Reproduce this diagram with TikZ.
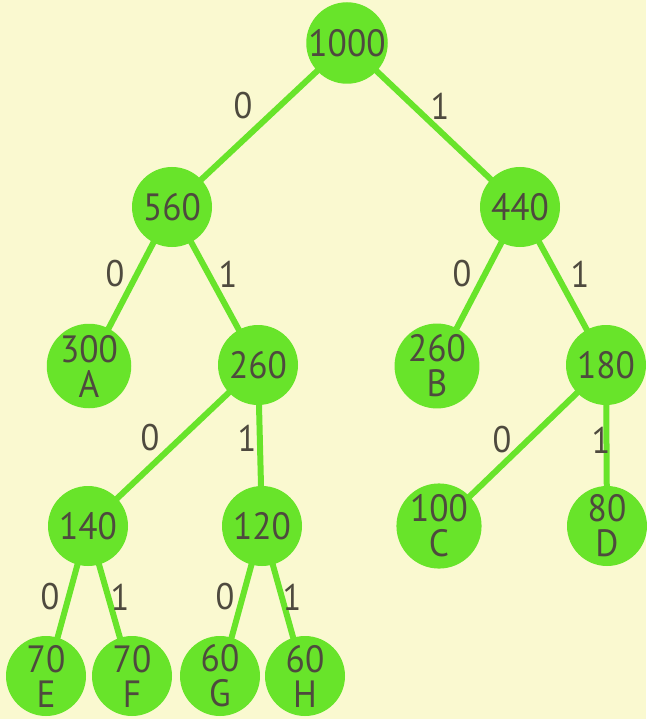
\documentclass[tikz,border=0pt]{standalone}
\usepackage{fontspec}
\setmainfont[FakeStretch=0.93]{PT Sans}
\definecolor{bg}{RGB}{250,249,208}
\definecolor{grn}{RGB}{104,228,42}
\definecolor{ink}{RGB}{78,74,62}
\begin{document}
\begin{tikzpicture}[x=1pt,y=-1pt,
  nd/.style={circle,fill=grn,minimum size=80pt,inner sep=0pt,text=ink,font=\fontsize{38}{35}\selectfont,align=center},
  low/.style={nd,yshift=4pt},
  edge/.style={draw=grn,line width=6pt},
  lbl/.style={text=ink,font=\fontsize{37}{37}\selectfont,inner sep=0pt}]
\fill[bg] (0,0) rectangle (646,719);
\useasboundingbox (0,0) rectangle (646,719);
\coordinate (c0) at (347,43);
\coordinate (c1) at (172,207);
\coordinate (c2) at (520,207);
\coordinate (c3) at (89,366);
\coordinate (c4) at (258,365);
\coordinate (c5) at (437,366);
\coordinate (c6) at (606,365);
\coordinate (c7) at (88,526);
\coordinate (c8) at (262,526);
\coordinate (c9) at (439,526);
\coordinate (c10) at (607,526);
\coordinate (c11) at (46,680);
\coordinate (c12) at (132,680);
\coordinate (c13) at (220,680);
\coordinate (c14) at (305,680);
\foreach \a/\b in {c0/c1,c0/c2,c1/c3,c1/c4,c2/c5,c2/c6,c4/c7,c4/c8,c6/c9,c6/c10,c7/c11,c7/c12,c8/c13,c8/c14}
  \draw[edge] (\a) -- (\b);
\node[nd] (n1000) at (c0) {1000};
\node[nd] (n560) at (c1) {560};
\node[nd] (n440) at (c2) {440};
\node[nd] (nA) at (c3) {300\\A};
\node[nd] (n260) at (c4) {260};
\node[nd] (nB) at (c5) {260\\B};
\node[nd] (n180) at (c6) {180};
\node[nd] (n140) at (c7) {140};
\node[nd] (n120) at (c8) {120};
\node[nd] (nC) at (c9) {100\\C};
\node[nd] (nD) at (c10) {80\\D};
\node[low] (nE) at (c11) {70\\E};
\node[low] (nF) at (c12) {70\\F};
\node[low] (nG) at (c13) {60\\G};
\node[low] (nH) at (c14) {60\\H};
\node[lbl] (l1) at (243,106) {0};
\node[lbl] (l2) at (440,106) {1};
\node[lbl] (l3) at (115,274) {0};
\node[lbl] (l4) at (228,274) {1};
\node[lbl] (l5) at (462,274) {0};
\node[lbl] (l6) at (580,274) {1};
\node[lbl] (l7) at (150,438) {0};
\node[lbl] (l8) at (247,438) {1};
\node[lbl] (l9) at (502,440) {0};
\node[lbl] (l10) at (601,440) {1};
\node[lbl] (l11) at (50,597) {0};
\node[lbl] (l12) at (120,597) {1};
\node[lbl] (l13) at (225,597) {0};
\node[lbl] (l14) at (292,597) {1};
\end{tikzpicture}
\end{document}
